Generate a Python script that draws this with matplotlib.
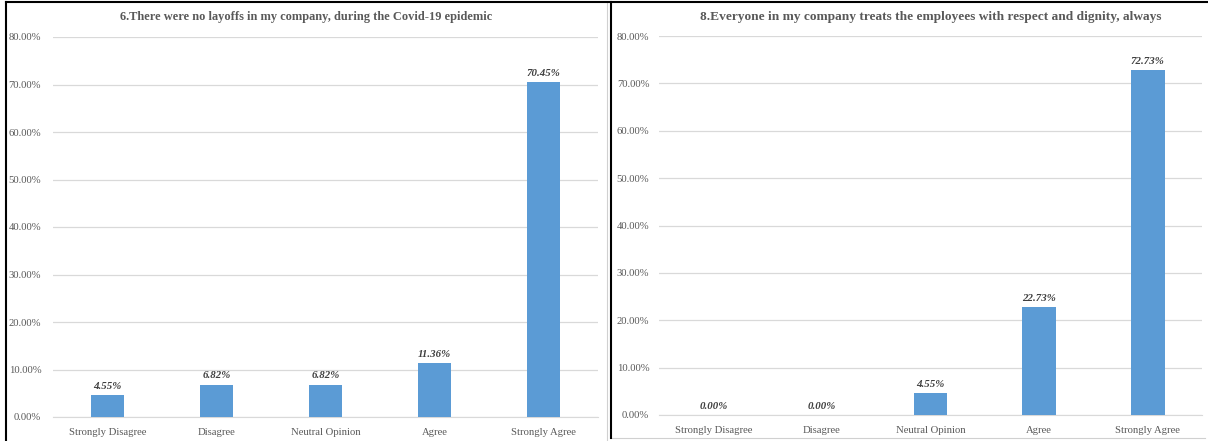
import matplotlib
matplotlib.use("Agg")
import matplotlib.pyplot as plt
from matplotlib.lines import Line2D
from matplotlib.ticker import FuncFormatter

categories = ["Strongly Disagree", "Disagree", "Neutral Opinion", "Agree", "Strongly Agree"]
q6_values = [4.55, 6.82, 6.82, 11.36, 70.45]
q8_values = [0.00, 0.00, 4.55, 22.73, 72.73]
q6_title = "6.There were no layoffs in my company, during the Covid-19 epidemic"
q8_title = "8.Everyone in my company treats the employees with respect and dignity, always"

BAR = "#5B9BD5"; GRID = "#D9D9D9"; TXT = "#595959"; LBL = "#404040"
W, H = 1208, 441
plt.rcParams["font.family"] = ["Liberation Serif", "DejaVu Serif"]

fig = plt.figure(figsize=(W / 100, H / 100), dpi=100)


def px_axes(x0, x1, ytop, ybot):
    return fig.add_axes([x0 / W, (H - ybot) / H, (x1 - x0) / W, (ybot - ytop) / H])


def panel(ax, vals, title, title_x, title_size, ypad):
    ax.bar(range(len(categories)), vals, width=0.31, color=BAR, zorder=3)
    ax.set_xlim(-0.5, len(categories) - 0.5)
    ax.set_ylim(0, 80)
    ax.set_yticks(range(0, 81, 10))
    ax.yaxis.set_major_formatter(FuncFormatter(lambda v, _: f"{v:.2f}%"))
    ax.set_xticks(range(len(categories)))
    ax.set_xticklabels(categories)
    ax.grid(axis="y", color=GRID, lw=0.9, zorder=0)
    for s in ["top", "right", "left"]:
        ax.spines[s].set_visible(False)
    ax.spines["bottom"].set_color(GRID)
    ax.tick_params(axis="both", length=0, labelsize=7.7, colors=TXT)
    ax.tick_params(axis="y", pad=ypad)
    ax.tick_params(axis="x", pad=8)
    for i, v in enumerate(vals):
        ax.annotate(f"{v:.2f}%", (i, v), xytext=(0, 3), textcoords="offset points",
                    ha="center", va="bottom", fontsize=7.8, fontweight="bold",
                    fontstyle="italic", color=LBL)
    fig.text(title_x / W, (H - 17) / H, title, ha="center", va="center",
             fontsize=title_size, fontweight="bold", color=TXT)


panel(px_axes(53, 598, 37, 417), q6_values, q6_title, 306, 8.9, 8.5)
panel(px_axes(659, 1202, 36, 415), q8_values, q8_title, 931, 9.6, 7)

# chart-area frames
def line(xs, ys, color, lw):
    fig.add_artist(Line2D([x / W for x in xs], [(H - y) / H for y in ys],
                          color=color, lw=lw, transform=fig.transFigure))

line([607, 607], [3, 441], "#D0D0D0", 0.8)
line([612, 1205], [438, 438], "#D0D0D0", 0.8)
line([6, 1208], [2, 2], "black", 1.5)
line([6, 6], [2, 441], "black", 1.5)
line([611, 611], [2, 438], "black", 1.5)

fig.savefig("out.png", dpi=100, facecolor="white")
